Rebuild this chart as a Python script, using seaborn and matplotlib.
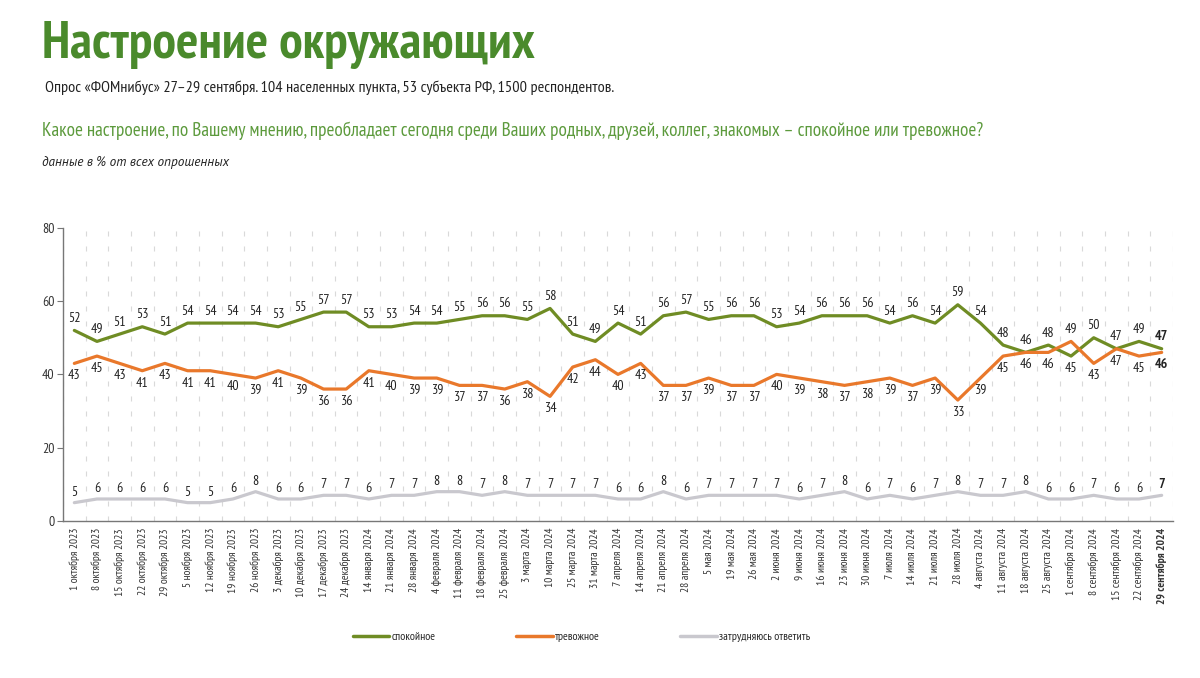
import numpy as np
import pandas as pd
import matplotlib
matplotlib.use("Agg")
import matplotlib.pyplot as plt
import seaborn as sns

dates = [
    "1 октября 2023", "8 октября 2023", "15 октября 2023", "22 октября 2023", "29 октября 2023",
    "5 ноября 2023", "12 ноября 2023", "19 ноября 2023", "26 ноября 2023",
    "3 декабря 2023", "10 декабря 2023", "17 декабря 2023", "24 декабря 2023",
    "14 января 2024", "21 января 2024", "28 января 2024",
    "4 февраля 2024", "11 февраля 2024", "18 февраля 2024", "25 февраля 2024",
    "3 марта 2024", "10 марта 2024", "25 марта 2024", "31 марта 2024",
    "7 апреля 2024", "14 апреля 2024", "21 апреля 2024", "28 апреля 2024",
    "5 мая 2024", "19 мая 2024", "26 мая 2024",
    "2 июня 2024", "9 июня 2024", "16 июня 2024", "23 июня 2024", "30 июня 2024",
    "7 июля 2024", "14 июля 2024", "21 июля 2024", "28 июля 2024",
    "4 августа 2024", "11 августа 2024", "18 августа 2024", "25 августа 2024",
    "1 сентября 2024", "8 сентября 2024", "15 сентября 2024", "22 сентября 2024", "29 сентября 2024",
]

calm = [52, 49, 51, 53, 51, 54, 54, 54, 54, 53, 55, 57, 57, 53, 53, 54, 54, 55, 56, 56,
        55, 58, 51, 49, 54, 51, 56, 57, 55, 56, 56, 53, 54, 56, 56, 56, 54, 56, 54, 59,
        54, 48, 46, 48, 45, 50, 47, 49, 47]
anxious = [43, 45, 43, 41, 43, 41, 41, 40, 39, 41, 39, 36, 36, 41, 40, 39, 39, 37, 37, 36,
           38, 34, 42, 44, 40, 43, 37, 37, 39, 37, 37, 40, 39, 38, 37, 38, 39, 37, 39, 33,
           39, 45, 46, 46, 49, 43, 47, 45, 46]
hard = [5, 6, 6, 6, 6, 5, 5, 6, 8, 6, 6, 7, 7, 6, 7, 7, 8, 8, 7, 8,
        7, 7, 7, 7, 6, 6, 8, 6, 7, 7, 7, 7, 6, 7, 8, 6, 7, 6, 7, 8,
        7, 7, 8, 6, 6, 7, 6, 6, 7]

series_names = ["спокойное", "тревожное", "затрудняюсь ответить"]
colors = ["#6f8c24", "#e9782b", "#c9c8ce"]

title = "Настроение окружающих"
subtitle = "Опрос «ФОМнибус» 27–29 сентября. 104 населенных пункта, 53 субъекта РФ, 1500 респондентов."
question = ("Какое настроение, по Вашему мнению, преобладает сегодня среди Ваших родных, "
            "друзей, коллег, знакомых – спокойное или тревожное?")
note = "данные в % от всех опрошенных"

sns.set_theme(style="white")
FONT = ["PT Sans Narrow", "DejaVu Sans"]
ITALIC_FONT = ["PT Sans", "DejaVu Sans"]
plt.rcParams["font.family"] = FONT

n = len(dates)
idx = np.arange(n)
df = pd.DataFrame({
    "x": np.concatenate([idx, idx, idx]),
    "value": calm + anxious + hard,
    "series": [series_names[0]] * n + [series_names[1]] * n + [series_names[2]] * n,
})

fig = plt.figure(figsize=(12, 6.78), dpi=100)
ax = fig.add_axes([0.0525, 0.2316, 0.925, 0.4324])

sns.lineplot(data=df, x="x", y="value", hue="series", hue_order=series_names,
             palette=colors, linewidth=2.3, ax=ax, sort=False)

ax.set_xlim(-0.5, n - 0.5)
ax.set_ylim(0, 80)
ax.set_yticks([0, 20, 40, 60, 80])
ax.set_xticks(idx)
ax.set_xticklabels(dates, rotation=90, fontsize=8.3, color="#333333")
ax.get_xticklabels()[-1].set_fontweight("bold")
ax.set_xticks(np.arange(-0.5, n, 1), minor=True)
ax.tick_params(axis="x", which="major", length=0, pad=5)
ax.tick_params(axis="x", which="minor", length=0)
ax.tick_params(axis="y", length=4, width=0.8, color="#777777", labelsize=10,
               labelcolor="#333333", pad=2, left=True)
ax.grid(False)
ax.xaxis.grid(True, which="minor", color="#d9d9d9", linewidth=0.8, linestyle=(0, (4.5, 9)))
ax.set_xlabel("")
ax.set_ylabel("")
for side in ["top", "right"]:
    ax.spines[side].set_visible(False)
for side in ["left", "bottom"]:
    ax.spines[side].set_color("#777777")
    ax.spines[side].set_linewidth(1.0)

# data labels
for i in idx:
    last = (i == n - 1)
    fw = "bold" if last else "normal"
    hi, lo = (calm[i], anxious[i]) if calm[i] >= anxious[i] else (anxious[i], calm[i])
    ax.annotate(str(hi), (i, hi), xytext=(0, 8.5), textcoords="offset points",
                ha="center", va="center", fontsize=10, color="#222222", fontweight=fw)
    ax.annotate(str(lo), (i, lo), xytext=(0, -9), textcoords="offset points",
                ha="center", va="center", fontsize=10, color="#222222", fontweight=fw)
    ax.annotate(str(hard[i]), (i, hard[i]), xytext=(0, 7.5), textcoords="offset points",
                ha="center", va="center", fontsize=10, color="#222222", fontweight=fw)

sns.move_legend(ax, "center", bbox_to_anchor=(0.4846, 0.0605), bbox_transform=fig.transFigure,
                ncol=3, frameon=False, title=None, fontsize=8.5, handlelength=3.1,
                handletextpad=0.2, columnspacing=6.8)
for line in ax.get_legend().get_lines():
    line.set_linewidth(2.5)

fig.text(0.035, 0.9336, title, fontsize=38, fontweight="bold", color="#4a8a2c",
         ha="left", va="center")
fig.text(0.0375, 0.870, subtitle, fontsize=11.7, color="#222222", ha="left", va="center")
fig.text(0.035, 0.807, question, fontsize=13.8, color="#5c9a3c", ha="left", va="center")
fig.text(0.035, 0.7596, note, fontsize=9.5, style="italic", color="#222222",
         ha="left", va="center", family=ITALIC_FONT)

fig.savefig("out.png", dpi=100, facecolor="white")
